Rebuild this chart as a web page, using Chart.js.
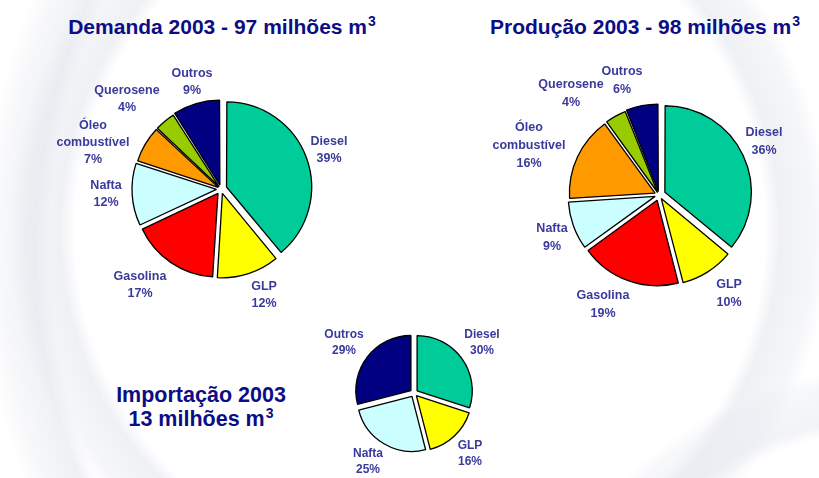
<!DOCTYPE html>
<html>
<head>
<meta charset="utf-8">
<script src="https://cdn.jsdelivr.net/npm/chart.js@4.4.0/dist/chart.umd.min.js"></script>
<style>
  html, body { margin:0; padding:0; }
  body {
    width:819px; height:478px; overflow:hidden; position:relative;
    font-family: Arial, "Liberation Sans", sans-serif;
    background:
      radial-gradient(circle at 640px 250px, rgba(255,255,255,0) 590px, rgba(225,228,235,0.55) 605px, rgba(225,228,235,0.25) 640px, rgba(255,255,255,0) 660px),
      radial-gradient(circle at 420px 230px, rgba(255,255,255,0) 345px, rgba(228,231,238,0.6) 360px, rgba(228,231,238,0.35) 395px, rgba(255,255,255,0) 410px),
      radial-gradient(circle at 900px 760px, rgba(255,255,255,0) 330px, rgba(228,231,238,0.5) 345px, rgba(228,231,238,0.3) 380px, rgba(255,255,255,0) 395px),
      #ffffff;
  }
  canvas { position:absolute; }
  .title { position:absolute; color:#0c0c86; font-weight:bold; font-size:21px; white-space:nowrap; text-align:center; transform:translateX(-50%); line-height:24px; }
  .title sup { font-size:14px; vertical-align:0; position:relative; top:-8px; margin-left:1px; }
</style>
</head>
<body>
<div class="title" style="left:222px; top:15px;">Demanda 2003 - 97 milhões m<sup>3</sup></div>
<div class="title" style="left:645px; top:15px;">Produção 2003 - 98 milhões m<sup>3</sup></div>
<div class="title" style="left:201px; top:383px; font-size:21.5px;">Importação 2003<br>13 milhões m<sup>3</sup></div>

<canvas id="demanda" width="420" height="300"></canvas>
<canvas id="producao" width="340" height="300"></canvas>
<canvas id="importacao" width="240" height="200"></canvas>

<script>
// ---------------- DATA ----------------
const demandaCategorias = ['Diesel', 'GLP', 'Gasolina', 'Nafta', 'Óleo combustível', 'Querosene', 'Outros'];
const demandaValores    = [39, 12, 17, 12, 7, 4, 9];

const producaoCategorias = ['Diesel', 'GLP', 'Gasolina', 'Nafta', 'Óleo combustível', 'Querosene', 'Outros'];
const producaoValores    = [36, 10, 19, 9, 16, 4, 6];

const importacaoCategorias = ['Diesel', 'GLP', 'Nafta', 'Outros'];
const importacaoValores    = [30, 16, 25, 29];

// ---------------- STYLE / LAYOUT ----------------
const COLORS = {
  'Diesel': '#00CC99',
  'GLP': '#FFFF00',
  'Gasolina': '#FF0000',
  'Nafta': '#CCFFFF',
  'Óleo combustível': '#FF9900',
  'Querosene': '#99CC00',
  'Outros': '#000080'
};
const LABEL_COLOR = '#3a3a9c';

// explode distances in pixels (per slice)
const LAYOUT = {
  demanda: {
    cx: 221, cy: 189, w: 420, h: 300, radius: 83, fontSize: 12.5, lineH: 17,
    explode: [8, 6, 6, 6, 5, 5, 6],
    labelPos: [[108, -47], [43, 98], [-81, 88], [-115, -3], [-128, -63], [-94, -98], [-29, -115]]
  },
  producao: {
    cx: 659, cy: 195, w: 340, h: 300, radius: 85, fontSize: 12.5, lineH: 18,
    explode: [8, 6, 6, 6, 5, 5, 6],
    labelPos: [[105, -62], [70, 90], [-56, 101], [-107, 34], [-130, -67], [-88, -110], [-37, -123]]
  },
  importacao: {
    cx: 414, cy: 393, w: 240, h: 200, radius: 55, fontSize: 12, lineH: 16,
    explode: [4, 4, 4, 4],
    labelPos: [[68, -58], [56, 53], [-46, 61], [-70, -58]]
  }
};

function splitLabel(name) {
  return name === 'Óleo combustível' ? ['Óleo', 'combustível'] : [name];
}

const labelPlugin = {
  id: 'sliceLabels',
  afterDatasetsDraw(chart) {
    const cfg = chart.options.plugins.sliceLabels;
    const meta = chart.getDatasetMeta(0);
    if (!meta.data.length) return;
    const cx = meta.data[0].x, cy = meta.data[0].y;
    const ctx = chart.ctx;
    const vals = chart.data.datasets[0].data;
    ctx.save();
    ctx.fillStyle = LABEL_COLOR;
    ctx.font = 'bold ' + cfg.fontSize + 'px Arial, "Liberation Sans", sans-serif';
    ctx.textAlign = 'center';
    ctx.textBaseline = 'middle';
    chart.data.labels.forEach((name, i) => {
      const lines = splitLabel(name).concat([vals[i] + '%']);
      const [dx, dy] = cfg.pos[i];
      lines.forEach((t, k) => ctx.fillText(t, cx + dx, cy + dy + k * cfg.lineH));
    });
    ctx.restore();
  }
};

function makePie(id, cats, vals, L) {
  const cv = document.getElementById(id);
  cv.style.left = (L.cx - L.w / 2) + 'px';
  cv.style.top = (L.cy - L.h / 2) + 'px';
  const total = vals.reduce((a, b) => a + b, 0);
  // Chart.js ArcElement translates by offset/4 * (1 + fix); invert so the slice moves by explode px
  const offsetFn = (c) => {
    const v = c.dataset.data[c.dataIndex];
    const circ = v / total * Math.PI * 2;
    const fix = 1 - Math.sin(Math.min(Math.PI, circ));
    return L.explode[c.dataIndex] * 4 / (1 + fix);
  };
  return new Chart(cv, {
    type: 'pie',
    data: {
      labels: cats,
      datasets: [{
        data: vals,
        backgroundColor: cats.map(c => COLORS[c]),
        borderColor: '#000000',
        borderWidth: 1.3,
        offset: offsetFn,
        hoverOffset: 0
      }]
    },
    options: {
      responsive: false,
      animation: false,
      events: [],
      radius: L.radius,
      rotation: 0,
      layout: { padding: 0 },
      plugins: {
        legend: { display: false },
        tooltip: { enabled: false },
        sliceLabels: { pos: L.labelPos, fontSize: L.fontSize, lineH: L.lineH }
      }
    },
    plugins: [labelPlugin]
  });
}

makePie('demanda', demandaCategorias, demandaValores, LAYOUT.demanda);
makePie('producao', producaoCategorias, producaoValores, LAYOUT.producao);
makePie('importacao', importacaoCategorias, importacaoValores, LAYOUT.importacao);
</script>
</body>
</html>
